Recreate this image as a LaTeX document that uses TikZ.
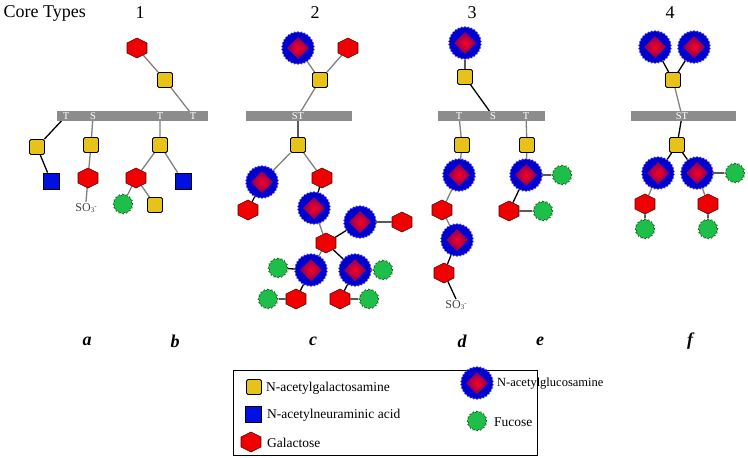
\documentclass[tikz,border=0pt]{standalone}
\usepackage{fontspec}
\setmainfont{Liberation Serif}
\usetikzlibrary{shapes.geometric,backgrounds}
\definecolor{galy}{HTML}{E6C21A}
\definecolor{siab}{HTML}{0010E0}
\definecolor{hexr}{HTML}{F00000}
\definecolor{fucg}{HTML}{1DBE4A}
\definecolor{barg}{HTML}{8C8C8C}
\tikzset{
 gal/.style={rectangle,rounded corners=1.5pt,minimum size=15pt,inner sep=0,fill=galy,draw=black,line width=.8pt},
 sia/.style={rectangle,minimum size=16pt,inner sep=0,fill=siab,draw=black,line width=.8pt},
 hx/.style={regular polygon,regular polygon sides=6,shape border rotate=30,minimum size=20pt,inner sep=0,transform shape,xscale=1.15,fill=hexr,draw=black!70!red,line width=.6pt},
 glc/.style={star,star points=30,star point ratio=1.07,minimum size=33pt,inner sep=0,fill=blue!80!black,draw=blue!70!white,
   path picture={\shade[inner color=red!90!magenta,outer color=violet!60!blue!80!black] (path picture bounding box.center) +(0,11)--+(11,0)--+(0,-11)--+(-11,0)--cycle;}},
 fuc/.style={star,star points=16,star point ratio=1.15,minimum size=20pt,inner sep=0,fill=fucg,draw=black!70!green,densely dotted,line width=.8pt},
 e/.style={draw=gray,line width=1.3pt},
 k/.style={draw=black,line width=1.3pt},
 bar/.style={fill=barg,inner sep=0,minimum height=10pt,anchor=west},
 bl/.style={text=white,font=\fontsize{10.5}{10}\selectfont,inner sep=0},
 lab/.style={font=\bfseries\itshape\fontsize{18}{18}\selectfont},
 num/.style={font=\fontsize{18}{18}\selectfont},
 leg/.style={font=\fontsize{13.5}{13}\selectfont,anchor=west,inner sep=0},
 so/.style={font=\fontsize{12}{12}\selectfont,text=black!75,inner sep=1pt},
}
\begin{document}
\begin{tikzpicture}[x=1pt,y=-1pt]
\useasboundingbox (0,0) rectangle (748,458);
\node[num,anchor=west] (ct) at (0,13) {Core Types};
\node[num] (n1) at (140,13) {1};
\node[num] (n2) at (315,13) {2};
\node[num] (n3) at (472,13) {3};
\node[num] (n4) at (670,13) {4};
% bars
\node[bar,minimum width=151pt] (b1) at (57,116) {};
\node[bl] (t1) at (66,116) {T};
\node[bl] (s1) at (93,116) {S};
\node[bl] (t2) at (160,116) {T};
\node[bl] (t3) at (193,116) {T};
\node[bar,minimum width=106pt] (b2) at (246,116) {};
\node[bl] (st2) at (298,116) {ST};
\node[bar,minimum width=107pt] (b3) at (438,116) {};
\node[bl] (t4) at (459,116) {T};
\node[bl] (s3) at (493,116) {S};
\node[bl] (t5) at (526,116) {T};
\node[bar,minimum width=105pt] (b4) at (631,116) {};
\node[bl] (st4) at (682,116) {ST};
% core 1
\node[hx] (a1) at (137,48) {};
\node[gal] (a2) at (165,80) {};
\node[gal] (a3) at (37,147) {};
\node[sia] (a4) at (51,181) {};
\node[gal] (a5) at (91,145) {};
\node[hx] (a6) at (88,178) {};
\node[so] (so1) at (86,208) {SO\raisebox{-1.5pt}{\scriptsize 3}\raisebox{3pt}{\scriptsize -}};
\node[gal] (a7) at (160,145) {};
\node[hx] (a8) at (136,178) {};
\node[sia] (a9) at (183,181) {};
\node[fuc] (a10) at (123,204) {};
\node[gal] (a11) at (155,205) {};
% core 2
\node[glc] (c1) at (298,48) {};
\node[hx] (c2) at (348,48) {};
\node[gal] (c3) at (320,80) {};
\node[gal] (c4) at (298,145) {};
\node[glc] (c5) at (262,182) {};
\node[hx] (c6) at (322,178) {};
\node[hx] (c7) at (248,210) {};
\node[glc] (c8) at (314,208) {};
\node[glc] (c9) at (360,222) {};
\node[hx] (c10) at (402,222) {};
\node[hx] (c11) at (326,243) {};
\node[glc] (c12) at (311,270) {};
\node[glc] (c13) at (355,270) {};
\node[fuc] (c14) at (278,268) {};
\node[hx] (c15) at (296,299) {};
\node[fuc] (c16) at (268,299) {};
\node[fuc] (c17) at (383,270) {};
\node[hx] (c18) at (340,299) {};
\node[fuc] (c19) at (369,299) {};
% core 3
\node[glc] (d1) at (465,43) {};
\node[gal] (d2) at (465,77) {};
\node[gal] (d3) at (462,145) {};
\node[glc] (d4) at (459,175) {};
\node[hx] (d5) at (442,210) {};
\node[glc] (d6) at (457,240) {};
\node[hx] (d7) at (444,273) {};
\node[so] (so2) at (456,305) {SO\raisebox{-1.5pt}{\scriptsize 3}\raisebox{3pt}{\scriptsize -}};
\node[gal] (d8) at (527,145) {};
\node[glc] (d9) at (526,175) {};
\node[fuc] (d10) at (562,175) {};
\node[hx] (d11) at (509,211) {};
\node[fuc] (d12) at (543,211) {};
% core 4
\node[glc] (f1) at (655,47) {};
\node[glc] (f2) at (694,47) {};
\node[gal] (f3) at (673,80) {};
\node[gal] (f4) at (677,145) {};
\node[glc] (f5) at (658,173) {};
\node[glc] (f6) at (697,173) {};
\node[fuc] (f7) at (735,173) {};
\node[hx] (f8) at (645,204) {};
\node[hx] (f9) at (708,204) {};
\node[fuc] (f10) at (645,229) {};
\node[fuc] (f11) at (708,229) {};
\begin{scope}[on background layer]
\draw[e] (a1)--(a2) (a2)--(t3.center) (s1.center)--(a5) (a5)--(a6) (a6)--(so1.north)
 (t2.center)--(a7) (a7)--(a8) (a7)--(a9) (a8)--(a10) (a8)--(a11);
\draw[k] (t1.center)--(a3) (a3)--(a4);
\draw[e] (c1)--(c3) (c2)--(c3) (c3)--(st2.center) (c4)--(c5) (c4)--(c6) (c8)--(c11) (c11)--(c12);
\draw[k] (st2.center)--(c4) (c5)--(c7) (c6)--(c8) (c11)--(c9) (c9)--(c10) (c11)--(c13)
 (c12)--(c14) (c12)--(c15) (c15)--(c16) (c13)--(c17) (c13)--(c18) (c18)--(c19);
\draw[k] (d1)--(d2) (d2)--(s3.center) (d6)--(d7) (d7)--(so2.north) (d9)--(d11) (d11)--(d12) (d9)--(d10);
\draw[e] (t4.center)--(d3) (d3)--(d4) (d4)--(d5) (d5)--(d6) (t5.center)--(d8) (d8)--(d9);
\draw[k] (f1)--(f3) (f2)--(f3) (st4.center)--(f4) (f4)--(f5) (f4)--(f6) (f6)--(f7) (f8)--(f10) (f9)--(f11);
\draw[e] (f3)--(st4.center) (f5)--(f8) (f6)--(f9);
\end{scope}
% letters
\node[lab] (la) at (87,341) {a};
\node[lab] (lb) at (175,341) {b};
\node[lab] (lc) at (313,341) {c};
\node[lab] (ld) at (462,341) {d};
\node[lab] (le) at (540,341) {e};
\node[lab] (lf) at (690,341) {f};
% legend
\node[draw=black,line width=1pt,minimum width=304pt,minimum height=85pt,anchor=north west,inner sep=0] (lg) at (233,370) {};
\node[gal] (g1) at (254,387) {};
\node[leg] (g1t) at (266,388) {N-acetylgalactosamine};
\node[sia] (g2) at (253,414) {};
\node[leg] (g2t) at (267,415) {N-acetylneuraminic acid};
\node[hx] (g3) at (251,442) {};
\node[leg] (g3t) at (267,443) {Galactose};
\node[glc] (g4) at (477,383) {};
\node[leg,font=\fontsize{12.5}{13}\selectfont] (g4t) at (497,384) {N-acetylglucosamine};
\node[fuc] (g5) at (477,421) {};
\node[leg] (g5t) at (494,422) {Fucose};
\end{tikzpicture}
\end{document}
